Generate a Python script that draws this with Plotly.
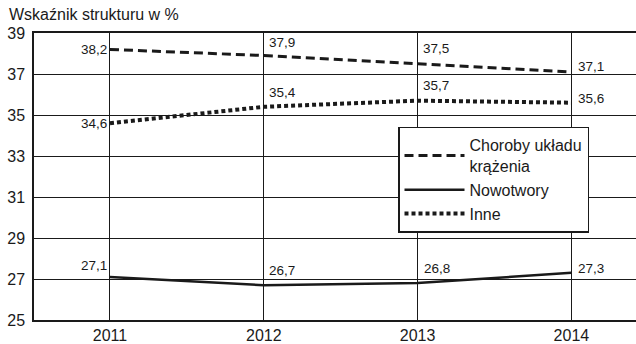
import plotly.graph_objects as go

years = [2011, 2012, 2013, 2014]
choroby = [38.2, 37.9, 37.5, 37.1]
nowotwory = [27.1, 26.7, 26.8, 27.3]
inne = [34.6, 35.4, 35.7, 35.6]
labels_choroby = ["38,2", "37,9", "37,5", "37,1"]
labels_nowotwory = ["27,1", "26,7", "26,8", "27,3"]
labels_inne = ["34,6", "35,4", "35,7", "35,6"]
y_ticks = [25, 27, 29, 31, 33, 35, 37, 39]

FONT = "Liberation Sans, Arial, sans-serif"
INK = "#1a1a1a"

fig = go.Figure()
fig.add_trace(go.Scatter(x=years, y=choroby, mode="lines", name="Choroby układu<br>krążenia",
                         line=dict(color=INK, width=3, dash="9px,5px")))
fig.add_trace(go.Scatter(x=years, y=nowotwory, mode="lines", name="Nowotwory",
                         line=dict(color=INK, width=2.5)))
fig.add_trace(go.Scatter(x=years, y=inne, mode="lines", name="Inne",
                         line=dict(color=INK, width=4, dash="4px,3px")))

# label placement styles: (xanchor, yanchor, xshift, yshift)
pos_choroby = [("right", "middle", -1, 0), ("left", "bottom", 3, 4), ("left", "bottom", 3, 6), ("left", "bottom", 5, -4)]
pos_inne = [("right", "middle", -1, 0), ("left", "bottom", 3, 5), ("left", "bottom", 3, 6), ("left", "middle", 5, 4)]
pos_now = [("right", "bottom", -1, 2), ("left", "bottom", 3, 5), ("left", "bottom", 4, 5), ("left", "middle", 5, 4)]

for vals, labs, pos in [(choroby, labels_choroby, pos_choroby),
                        (inne, labels_inne, pos_inne),
                        (nowotwory, labels_nowotwory, pos_now)]:
    for x, v, t, (xa, ya, xs, ys) in zip(years, vals, labs, pos):
        fig.add_annotation(x=x, y=v, text=t, showarrow=False, xanchor=xa, yanchor=ya,
                           xshift=xs, yshift=ys, font=dict(family=FONT, size=13.5, color=INK))

fig.add_annotation(xref="paper", yref="paper", x=-34/602, y=1 + 33/291, text="Wskaźnik strukturu w %",
                   showarrow=False, xanchor="left", yanchor="top", xshift=7, yshift=-4,
                   font=dict(family=FONT, size=16, color=INK))

fig.update_xaxes(range=[2010.506, 2014.42], tickvals=years, ticktext=[str(y) for y in years],
                 showgrid=True, gridcolor=INK, gridwidth=1, showline=True, linecolor=INK, linewidth=1.5,
                 mirror=True, ticks="", zeroline=False, tickfont=dict(family=FONT, size=16, color=INK),
                 fixedrange=True)
fig.update_yaxes(range=[25, 39], tickvals=y_ticks, ticktext=[str(v) for v in y_ticks],
                 showgrid=True, gridcolor=INK, gridwidth=1, showline=True, linecolor=INK, linewidth=1.5,
                 ticks="", zeroline=False, tickfont=dict(family=FONT, size=16, color=INK), ticklabelstandoff=4)

fig.update_layout(
    width=636, height=344,
    margin=dict(l=34, r=0, t=33, b=20),
    paper_bgcolor="white", plot_bgcolor="white",
    font=dict(family=FONT, color=INK),
    showlegend=True,
    legend=dict(x=(398 - 34) / 602, y=(324 - 128) / 291, xanchor="left", yanchor="top",
                bgcolor="white", bordercolor=INK, borderwidth=1.5,
                font=dict(family=FONT, size=16, color=INK), itemwidth=60,
                tracegroupgap=0),
)

fig.write_html("out.html")
